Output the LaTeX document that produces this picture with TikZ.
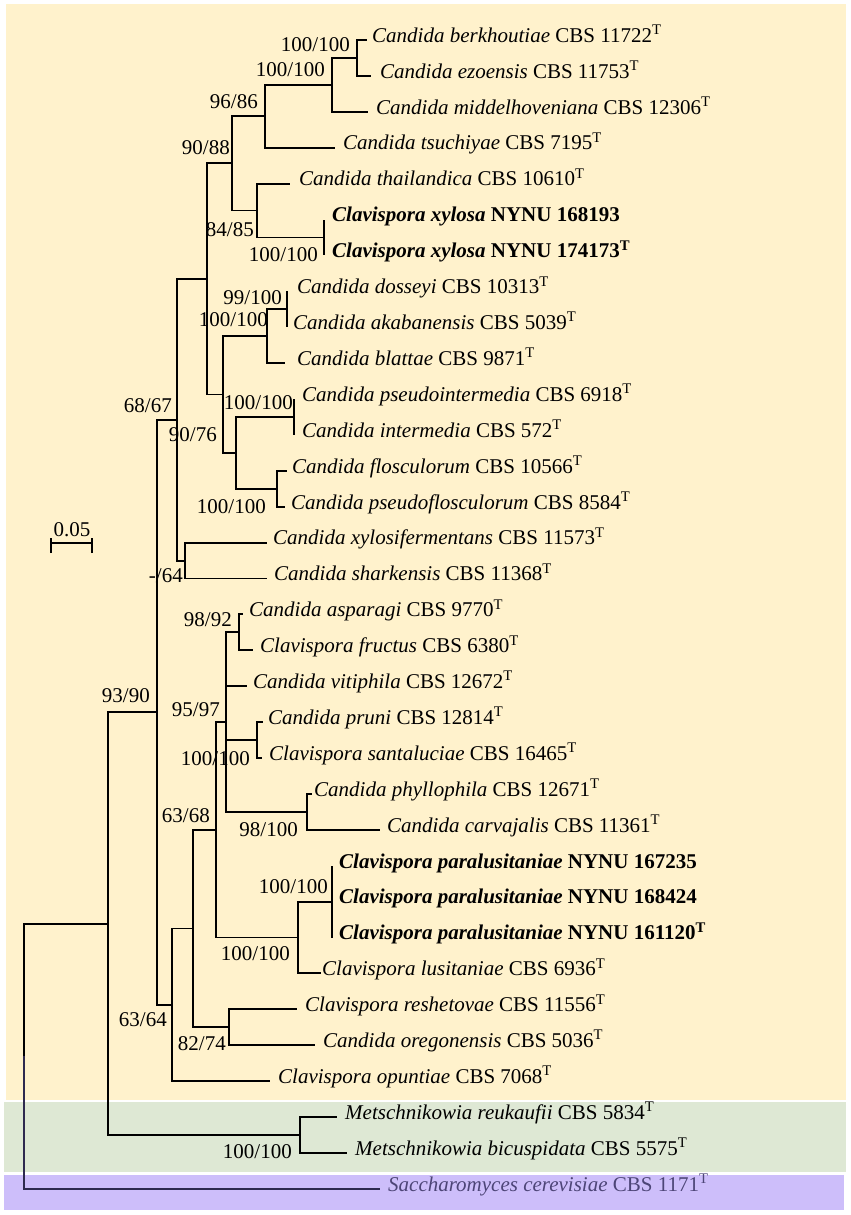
\documentclass[tikz,border=0pt]{standalone}
\usepackage{fontspec}
\setmainfont{Liberation Serif}
\definecolor{bgy}{HTML}{FFF2CC}
\definecolor{bgg}{HTML}{DEE8D4}
\definecolor{bgp}{HTML}{CDBEFA}
\definecolor{sacctext}{HTML}{4D4577}
\definecolor{saccline}{HTML}{2E2A4F}
\newcommand{\tsup}{\textsuperscript{T}}
\begin{document}
\begin{tikzpicture}[x=1pt,y=-1pt,
  br/.style={line width=1.9pt},
  leaf/.style={anchor=mid west, inner sep=0pt, font=\fontsize{21}{25}\selectfont},
  lab/.style={anchor=east, inner sep=0pt, font=\fontsize{21}{25}\selectfont}]
\useasboundingbox (0,0) rectangle (851,1215);
\fill[white] (0,0) rectangle (851,1215);
\fill[bgy] (6,4) rectangle (846,1100);
\fill[bgg] (4,1102) rectangle (846,1172);
\fill[bgp] (4,1175) rectangle (844,1210);

% tips
\coordinate (t1) at (367,40.0);
\coordinate (t2) at (371,75.9);
\coordinate (t3) at (368,111.8);
\coordinate (t4) at (335,147.7);
\coordinate (t5) at (290,183.6);
\coordinate (t6) at (324,219.5);
\coordinate (t7) at (324,255.4);
\coordinate (t8) at (287,291.3);
\coordinate (t9) at (287,327.2);
\coordinate (t10) at (285,363.1);
\coordinate (t11) at (294,399.0);
\coordinate (t12) at (294,434.9);
\coordinate (t13) at (287,470.8);
\coordinate (t14) at (285,506.7);
\coordinate (t15) at (267,542.6);
\coordinate (t16) at (267,578.5);
\coordinate (t17) at (243,614.4);
\coordinate (t18) at (253,650.3);
\coordinate (t19) at (247,686.2);
\coordinate (t20) at (263,722.1);
\coordinate (t21) at (262,758.0);
\coordinate (t22) at (312,793.9);
\coordinate (t23) at (380,829.8);
\coordinate (t24) at (332,865.7);
\coordinate (t25) at (332,901.6);
\coordinate (t26) at (332,937.5);
\coordinate (t27) at (321,973.4);
\coordinate (t28) at (297,1009.3);
\coordinate (t29) at (315,1045.2);
\coordinate (t30) at (270,1081.1);
\coordinate (t31) at (337,1117.0);
\coordinate (t32) at (347,1152.9);
\coordinate (t33) at (380,1188.8);

% internal nodes
\coordinate (nbe) at (357,57.95);
\coordinate (nbem) at (332,84.9);
\coordinate (nt) at (265,116.3);
\coordinate (nxy) at (324,237.45);
\coordinate (nthx) at (257,210.5);
\coordinate (nA) at (232,163.4);
\coordinate (nda) at (287,309.25);
\coordinate (ndab) at (267,336.2);
\coordinate (npi) at (294,416.95);
\coordinate (nfl) at (277,488.75);
\coordinate (npif) at (236,452.85);
\coordinate (nB) at (223,394.5);
\coordinate (nC) at (207,278.95);
\coordinate (nxs) at (185,560.55);
\coordinate (nD) at (177,419.75);
\coordinate (naf) at (239,632.35);
\coordinate (nps) at (257,740.05);
\coordinate (npc) at (307,811.85);
\coordinate (nE) at (226,722.1);
\coordinate (npar) at (332,901.6);
\coordinate (nlus) at (298,937.5);
\coordinate (nF) at (216,829.8);
\coordinate (nrs) at (229,1027.25);
\coordinate (nG) at (193,928.5);
\coordinate (nH) at (172,1004.8);
\coordinate (nI) at (157,712.3);
\coordinate (nmet) at (300,1134.95);
\coordinate (nJ) at (108,923.6);
\coordinate (nroot) at (24,1056.2);

% branches
\draw[br] (nbe) |- (t1) (nbe) |- (t2);
\draw[br] (nbem) |- (nbe) (nbem) |- (t3);
\draw[br] (nt) |- (nbem) (nt) |- (t4);
\draw[br] (nxy) |- (t6) (nxy) |- (t7);
\draw[br] (nthx) |- (t5) (nthx) |- (nxy);
\draw[br] (nA) |- (nt) (nA) |- (nthx);
\draw[br] (nda) |- (t8) (nda) |- (t9);
\draw[br] (ndab) |- (nda) (ndab) |- (t10);
\draw[br] (npi) |- (t11) (npi) |- (t12);
\draw[br] (nfl) |- (t13) (nfl) |- (t14);
\draw[br] (npif) |- (npi) (npif) |- (nfl);
\draw[br] (nB) |- (ndab) (nB) |- (npif);
\draw[br] (nC) |- (nA) (nC) |- (nB);
\draw[br] (nxs) |- (t15) (nxs) |- (t16);
\draw[br] (nD) |- (nC) (nD) |- (nxs);
\draw[br] (naf) |- (t17) (naf) |- (t18);
\draw[br] (nps) |- (t20) (nps) |- (t21);
\draw[br] (npc) |- (t22) (npc) |- (t23);
\draw[br] (nE) |- (naf) (nE) |- (t19) (nE) |- (nps) (nE) |- (npc);
\draw[br] (npar) |- (t24) (npar) |- (t25) (npar) |- (t26);
\draw[br] (nlus) |- (npar) (nlus) |- (t27);
\draw[br] (nF) |- (nE) (nF) |- (nlus);
\draw[br] (nrs) |- (t28) (nrs) |- (t29);
\draw[br] (nG) |- (nF) (nG) |- (nrs);
\draw[br] (nH) |- (nG) (nH) |- (t30);
\draw[br] (nI) |- (nD) (nI) |- (nH);
\draw[br] (nmet) |- (t31) (nmet) |- (t32);
\draw[br] (nJ) |- (nI) (nJ) |- (nmet);
\draw[br] (nroot) |- (nJ);
\draw[br, saccline] (nroot) |- (t33);

% leaf labels
\node[leaf] (L1) at ([xshift=5pt]t1) {\textit{Candida berkhoutiae} CBS 11722\tsup};
\node[leaf] (L2) at ([xshift=9pt]t2) {\textit{Candida ezoensis} CBS 11753\tsup};
\node[leaf] (L3) at ([xshift=8pt]t3) {\textit{Candida middelhoveniana} CBS 12306\tsup};
\node[leaf] (L4) at ([xshift=8pt]t4) {\textit{Candida tsuchiyae} CBS 7195\tsup};
\node[leaf] (L5) at ([xshift=9pt]t5) {\textit{Candida thailandica} CBS 10610\tsup};
\node[leaf] (L6) at ([xshift=8pt]t6) {\textbf{\textit{Clavispora xylosa} NYNU 168193}};
\node[leaf] (L7) at ([xshift=8pt]t7) {\textbf{\textit{Clavispora xylosa} NYNU 174173\tsup}};
\node[leaf] (L8) at ([xshift=10pt]t8) {\textit{Candida dosseyi} CBS 10313\tsup};
\node[leaf] (L9) at ([xshift=6pt]t9) {\textit{Candida akabanensis} CBS 5039\tsup};
\node[leaf] (L10) at ([xshift=12pt]t10) {\textit{Candida blattae} CBS 9871\tsup};
\node[leaf] (L11) at ([xshift=8pt]t11) {\textit{Candida pseudointermedia} CBS 6918\tsup};
\node[leaf] (L12) at ([xshift=8pt]t12) {\textit{Candida intermedia} CBS 572\tsup};
\node[leaf] (L13) at ([xshift=5pt]t13) {\textit{Candida flosculorum} CBS 10566\tsup};
\node[leaf] (L14) at ([xshift=6pt]t14) {\textit{Candida pseudoflosculorum} CBS 8584\tsup};
\node[leaf] (L15) at ([xshift=6pt]t15) {\textit{Candida xylosifermentans} CBS 11573\tsup};
\node[leaf] (L16) at ([xshift=7pt]t16) {\textit{Candida sharkensis} CBS 11368\tsup};
\node[leaf] (L17) at ([xshift=6pt]t17) {\textit{Candida asparagi} CBS 9770\tsup};
\node[leaf] (L18) at ([xshift=7pt]t18) {\textit{Clavispora fructus} CBS 6380\tsup};
\node[leaf] (L19) at ([xshift=6pt]t19) {\textit{Candida vitiphila} CBS 12672\tsup};
\node[leaf] (L20) at ([xshift=5pt]t20) {\textit{Candida pruni} CBS 12814\tsup};
\node[leaf] (L21) at ([xshift=7pt]t21) {\textit{Clavispora santaluciae} CBS 16465\tsup};
\node[leaf] (L22) at ([xshift=2pt]t22) {\textit{Candida phyllophila} CBS 12671\tsup};
\node[leaf] (L23) at ([xshift=7pt]t23) {\textit{Candida carvajalis} CBS 11361\tsup};
\node[leaf] (L24) at ([xshift=7pt]t24) {\textbf{\textit{Clavispora paralusitaniae} NYNU 167235}};
\node[leaf] (L25) at ([xshift=7pt]t25) {\textbf{\textit{Clavispora paralusitaniae} NYNU 168424}};
\node[leaf] (L26) at ([xshift=7pt]t26) {\textbf{\textit{Clavispora paralusitaniae} NYNU 161120\tsup}};
\node[leaf] (L27) at ([xshift=1pt]t27) {\textit{Clavispora lusitaniae} CBS 6936\tsup};
\node[leaf] (L28) at ([xshift=8pt]t28) {\textit{Clavispora reshetovae} CBS 11556\tsup};
\node[leaf] (L29) at ([xshift=8pt]t29) {\textit{Candida oregonensis} CBS 5036\tsup};
\node[leaf] (L30) at ([xshift=8pt]t30) {\textit{Clavispora opuntiae} CBS 7068\tsup};
\node[leaf] (L31) at ([xshift=8pt]t31) {\textit{Metschnikowia reukaufii} CBS 5834\tsup};
\node[leaf] (L32) at ([xshift=8pt]t32) {\textit{Metschnikowia bicuspidata} CBS 5575\tsup};
\node[leaf, text=sacctext] (L33) at ([xshift=8pt]t33) {\textit{Saccharomyces cerevisiae} CBS 1171\tsup};

% support labels
\node[lab] (b1) at (350,45) {100/100};
\node[lab] (b2) at (325,70) {100/100};
\node[lab] (b3) at (258,102) {96/86};
\node[lab] (b4) at (230,148) {90/88};
\node[lab] (b5) at (254,230) {84/85};
\node[lab] (b6) at (318,255) {100/100};
\node[lab] (b7) at (282,298) {99/100};
\node[lab] (b8) at (268,320) {100/100};
\node[lab] (b9) at (293,403) {100/100};
\node[lab] (b10) at (217,435) {90/76};
\node[lab] (b11) at (266,507) {100/100};
\node[lab] (b12) at (172,406) {68/67};
\node[lab] (b13) at (183,576) {-/64};
\node[lab] (b14) at (232,620) {98/92};
\node[lab] (b15) at (150,696) {93/90};
\node[lab] (b16) at (220,710) {95/97};
\node[lab] (b17) at (250,759) {100/100};
\node[lab] (b18) at (210,816) {63/68};
\node[lab] (b19) at (298,830) {98/100};
\node[lab] (b20) at (328,887) {100/100};
\node[lab] (b21) at (290,954) {100/100};
\node[lab] (b22) at (167,1020) {63/64};
\node[lab] (b23) at (226,1044) {82/74};
\node[lab] (b24) at (292,1152) {100/100};

% scale bar
\coordinate (sb1) at (51,543);
\coordinate (sb2) at (92,543);
\draw[line width=1.7pt] (sb1) -- (sb2);
\draw[line width=1.7pt] ([yshift=-10pt]sb1) -- ([yshift=5pt]sb1);
\draw[line width=1.7pt] ([yshift=-10pt]sb2) -- ([yshift=5pt]sb2);
\node[lab, anchor=center] (sbl) at (72,530) {0.05};
\end{tikzpicture}
\end{document}
